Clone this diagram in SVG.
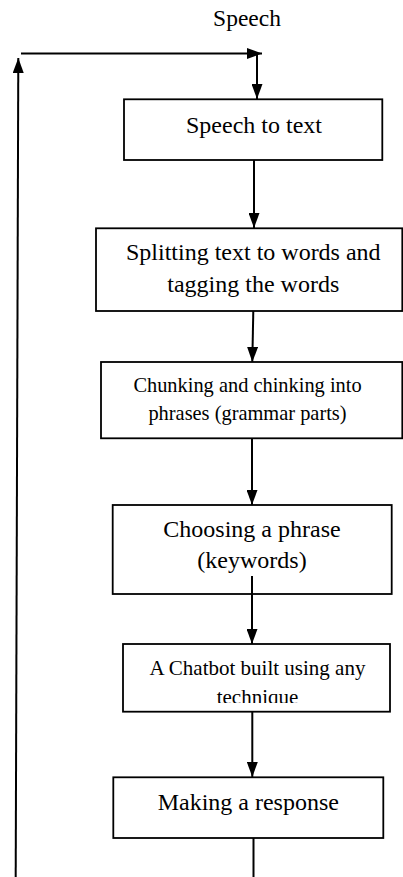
<svg xmlns="http://www.w3.org/2000/svg" width="403" height="877" viewBox="0 0 403 877">
<style>
.box{fill:#fff;stroke:#000;stroke-width:1.8}
.t{font-family:"Liberation Serif","Times New Roman",serif;fill:#000;text-anchor:middle}
.c{fill:none;stroke:#000;stroke-width:2}
</style>
<defs>
<marker id="ah" markerUnits="userSpaceOnUse" markerWidth="15" markerHeight="11" refX="15" refY="5.5" orient="auto">
<path d="M0,0 L15,5.5 L0,11 z" fill="#000"/>
</marker>
<clipPath id="clip5"><rect x="123" y="644" width="267" height="59"/></clipPath>
</defs>
<rect width="403" height="877" fill="#fff"/>
<text class="t" x="247" y="26" font-size="23.5">Speech</text>
<g id="n1">
<rect class="box" x="124" y="99.3" width="258.3" height="60.7"/>
<text class="t" x="254" y="133" font-size="24">Speech to text</text>
</g>
<g id="n2">
<rect class="box" x="96" y="228.3" width="306.3" height="82.7"/>
<text class="t" x="253.3" y="260" font-size="24">Splitting text to words and</text>
<text class="t" x="253.3" y="292" font-size="24">tagging the words</text>
</g>
<g id="n3">
<rect class="box" x="101" y="362" width="301.3" height="76.3"/>
<text class="t" x="247.5" y="392" font-size="20.4">Chunking and chinking into</text>
<text class="t" x="247.5" y="420" font-size="20.4">phrases (grammar parts)</text>
</g>
<g id="n4">
<rect class="box" x="112.7" y="505" width="279" height="89"/>
<text class="t" x="252" y="537" font-size="24">Choosing a phrase</text>
<text class="t" x="252" y="568" font-size="24">(keywords)</text>
</g>
<g id="n5">
<rect class="box" x="123" y="644" width="267" height="67.7"/>
<text class="t" x="257.5" y="675" font-size="21">A Chatbot built using any</text>
<text class="t" x="257.5" y="704" font-size="21" clip-path="url(#clip5)">technique</text>
</g>
<g id="n6">
<rect class="box" x="113.3" y="777.3" width="270" height="60.7"/>
<text class="t" x="248.3" y="810" font-size="24">Making a response</text>
</g>
<g id="connectors">
<path class="c" d="M21,53.5 L262,53.5" marker-end="url(#ah)"/>
<path class="c" d="M257,53.5 L257,99" marker-end="url(#ah)"/>
<path class="c" d="M254,160 L254,228" marker-end="url(#ah)"/>
<path class="c" d="M253.3,311 L252.3,362" marker-end="url(#ah)"/>
<path class="c" d="M252,438 L252,505" marker-end="url(#ah)"/>
<path class="c" d="M252,576 L252,644" marker-end="url(#ah)"/>
<path class="c" d="M252.3,712 L252.3,777" marker-end="url(#ah)"/>
<path class="c" d="M253.5,838 L253.5,877"/>
<path class="c" d="M15.7,877 L18.3,58" marker-end="url(#ah)"/>
</g>
</svg>
